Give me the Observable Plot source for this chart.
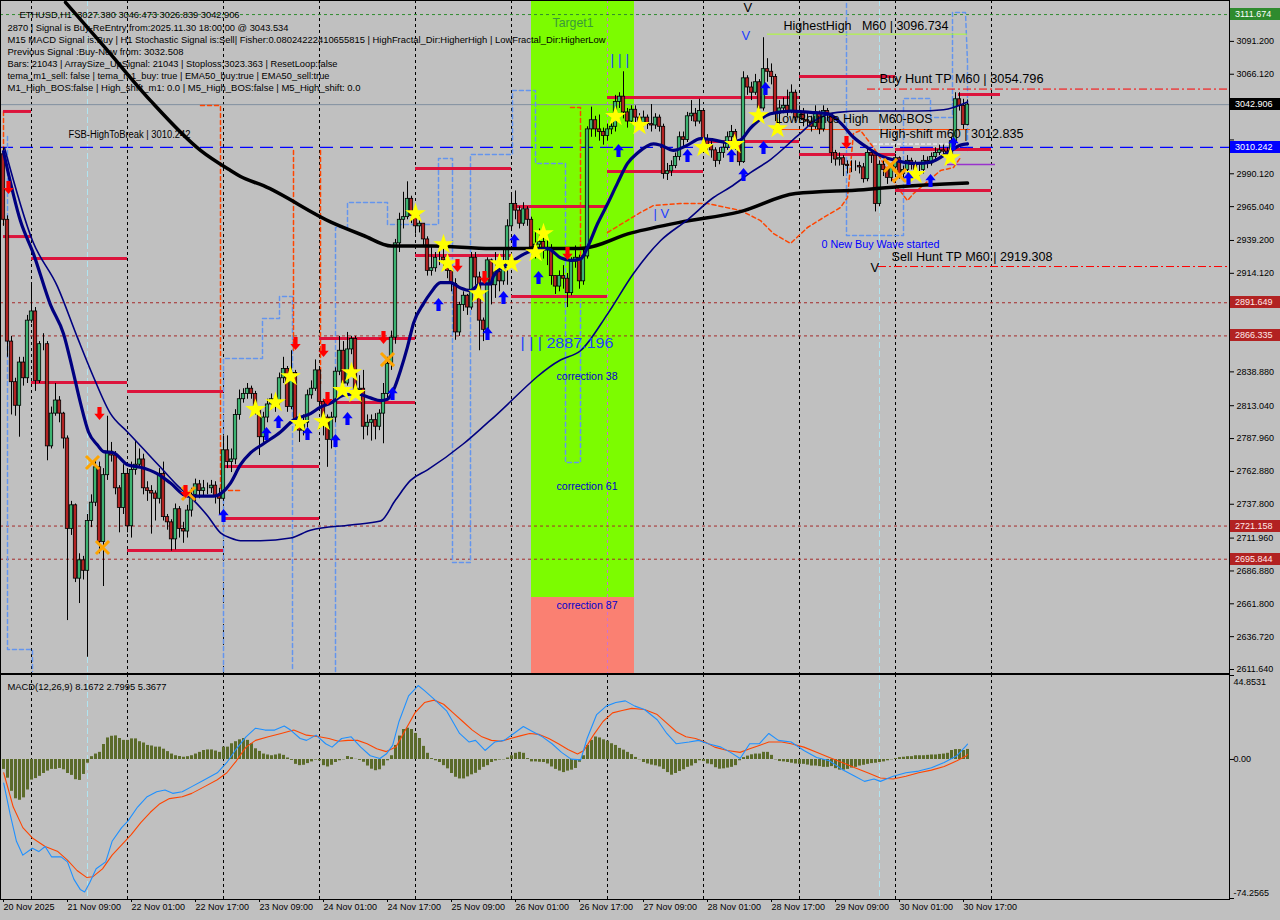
<!DOCTYPE html>
<html><head><meta charset="utf-8">
<script src="https://cdn.jsdelivr.net/npm/d3@7"></script>
<script src="https://cdn.jsdelivr.net/npm/@observablehq/plot@0.6"></script>
<style>
html,body{margin:0;padding:0;background:#c0c0c0;}
#wrap{position:relative;width:1280px;height:920px;background:#c0c0c0;overflow:hidden;font-family:"Liberation Sans",Arial,sans-serif;}
#wrap svg{position:absolute;left:0;display:block;}
#wrap text{white-space:pre;}
.box{position:absolute;left:1230px;width:50px;height:12px;font:9px "Liberation Sans",Arial,sans-serif;line-height:12px;padding-left:5px;box-sizing:border-box;}
</style></head><body><div id="wrap"></div>
<script>
// ---------------- DATA ----------------
const firstOpen = 3005;
const closes = [2955,2862,2831,2813,2846,2834,2878,2885,2832,2860,
2860,2782,2807,2817,2807,2788,2719,2737,2681,2695,
2687,2725,2739,2766,2709,2760,2778,2775,2750,2735,
2761,2721,2764,2768,2772,2750,2748,2746,2742,2761,
2728,2724,2711,2734,2719,2717,2733,2745,2753,2748,
2750,2750,2752,2744,2742,2779,2770,2772,2806,2818,
2822,2826,2822,2811,2789,2804,2814,2818,2815,2834,
2841,2812,2838,2802,2794,2800,2821,2826,2840,2816,
2804,2787,2804,2839,2855,2830,2856,2864,2825,2826,
2797,2800,2802,2797,2807,2822,2845,2865,2937,2955,
2957,2971,2958,2950,2952,2940,2916,2918,2926,2926,
2924,2916,2906,2869,2890,2897,2888,2926,2911,2878,
2871,2924,2905,2915,2908,2918,2950,2967,2962,2952,
2963,2955,2934,2936,2938,2932,2932,2912,2904,2912,
2910,2899,2923,2926,2908,2927,3024,3031,3024,3022,
3019,3024,3026,3045,3049,3037,3030,3039,3033,3029,
3033,3028,3027,3033,3026,2990,2992,2996,3003,3018,
3016,3034,3036,3030,3038,3016,3012,3008,3000,3006,
3010,3018,3022,3013,2999,3063,3056,3052,3060,3040,
3070,3068,3064,3036,3040,3042,3038,3052,3033,3037,
3031,3030,3026,3036,3024,3038,3036,3006,3001,3002,
2997,2996,2996,2996,2995,2986,3006,3004,2967,2997,
2993,2987,2995,3002,2990,2993,3000,2997,2993,2993,
3000,2998,3003,3006,3008,3007,3005,3015,3047,3042,
3027.38,3042.906];
const highs = [3010,2958,2866,2834,2850,2850,2882,2905,2888,2862,
2868,2862,2812,2830,2820,2808,2790,2740,2738,2700,
2698,2730,2745,2772,2770,2765,2805,2785,2778,2752,
2768,2765,2770,2786,2780,2776,2755,2752,2748,2765,
2770,2730,2726,2738,2736,2724,2737,2750,2757,2756,
2756,2754,2756,2755,2750,2790,2790,2780,2810,2825,
2826,2830,2828,2824,2812,2808,2818,2822,2822,2838,
2850,2843,2855,2840,2804,2806,2825,2832,2848,2842,
2818,2806,2808,2842,2866,2862,2869,2866,2866,2836,
2840,2806,2806,2807,2810,2830,2850,2870,2940,2960,
2976,2984,2973,2960,2958,2952,2942,2935,2930,2932,
2934,2926,2918,2910,2892,2900,2898,2930,2930,2915,
2880,2926,2925,2930,2918,2932,2955,2975,2977,2965,
2968,2965,2957,2945,2948,2945,2940,2936,2912,2916,
2920,2914,2926,2935,2928,2932,3026,3041,3034,3035,
3025,3028,3030,3050,3052,3068,3040,3042,3042,3036,
3038,3035,3043,3036,3035,3028,2998,3000,3006,3022,
3022,3037,3046,3040,3047,3039,3020,3016,3010,3010,
3014,3022,3027,3024,3015,3068,3065,3060,3066,3062,
3094,3078,3074,3066,3046,3048,3054,3058,3054,3042,
3040,3036,3034,3042,3038,3042,3040,3036,3008,3006,
3004,3000,3000,3000,2999,2998,3010,3008,3004,3000,
3000,2995,2998,3005,3003,2996,3004,3002,3000,2998,
3004,3003,3006,3010,3012,3012,3010,3018,3052,3052,
3047,3046.473];
const lows = [2950,2850,2806,2805,2789,2828,2830,2876,2824,2830,
2855,2771,2780,2805,2800,2780,2649,2714,2678,2662,
2680,2621,2720,2736,2700,2675,2756,2770,2745,2716,
2730,2716,2712,2760,2765,2745,2740,2715,2725,2738,
2725,2718,2702,2703,2712,2708,2712,2728,2740,2742,
2744,2745,2746,2738,2730,2740,2765,2762,2768,2802,
2815,2818,2818,2806,2775,2785,2800,2810,2808,2812,
2830,2808,2810,2795,2785,2790,2796,2818,2824,2810,
2790,2766,2780,2800,2836,2825,2828,2852,2820,2820,
2787,2790,2786,2787,2794,2784,2818,2840,2860,2930,
2948,2955,2952,2944,2945,2935,2912,2912,2915,2920,
2918,2910,2900,2863,2866,2885,2882,2886,2905,2855,
2862,2868,2890,2895,2900,2905,2905,2946,2955,2948,
2950,2950,2930,2925,2930,2925,2920,2905,2898,2900,
2902,2888,2897,2918,2902,2905,2925,3018,3018,3015,
3012,3015,3020,3022,3040,3032,3025,3028,3028,3024,
3026,3024,3022,3024,3022,2986,2985,2988,2994,3000,
3010,3014,3030,3026,3028,3012,3006,3002,2995,2997,
3002,3008,3010,3008,2996,2998,3050,3046,3050,3035,
3038,3060,3058,3030,3028,3036,3034,3036,3030,3030,
3026,3026,3022,3024,3020,3022,3030,2998,2996,2996,
2988,2990,2991,2992,2990,2983,2984,2998,2961,2965,
2988,2982,2984,2992,2986,2986,2990,2993,2990,2988,
2990,2994,2996,3000,3004,3003,3002,3004,3012,3038,
3024,3026.839];

// moving averages: [bar index, price]
const ma200Pts = [[15.5,3121],[25.5,3086],[36.75,3046],[49.25,3008],[56.75,2992.6],[59.25,2988],[65,2981],[82,2953],[90,2943],[97,2935],[107,2935],[122,2933],[144,2933],[157,2945],[169,2953],[184,2961],[198,2975],[215,2978],[223,2980],[241,2983]];
const emaFastPts = [[0,3007],[4.25,2954],[7.5,2929],[11.75,2890],[15,2868],[17.25,2841],[19.25,2815],[21.25,2793],[23.5,2783],[25,2778],[27.5,2777],[31,2768],[34.25,2766],[38.5,2761],[41.75,2754],[46,2744],[49.25,2744],[52.5,2744],[54.75,2747],[56.75,2754],[59.25,2768],[61.75,2777],[65,2784],[69.25,2793],[72.5,2802],[76.75,2807],[79.25,2812],[81.75,2815],[85,2821],[88.5,2822],[91.75,2819],[94.25,2817],[96,2818],[97.5,2825],[99.25,2840],[101,2858],[102.5,2876],[105,2891],[106.75,2899],[109.25,2907],[111.75,2907],[114.25,2903],[116.75,2901],[119.25,2906],[121.75,2906],[122.5,2912],[127.5,2924],[131.75,2931],[136,2933],[139.25,2926],[141.75,2924],[144.25,2925],[146,2934],[148.5,2952],[151,2967],[153.5,2983],[156,2998],[158.5,3006],[162.5,3013],[164.25,3012],[167.5,3008],[171,3012],[174.25,3017],[177.5,3016],[181,3014],[184.25,3016],[186.75,3025],[191.75,3036],[196.75,3038],[201.75,3037],[206,3036],[209.25,3029],[212.5,3018],[216,3010],[219.25,3004],[223.5,3000],[228.5,2998],[231.75,2999],[236,3006],[239.25,3012],[241,3013]];
const emaSlowPts = [[0.25,3010],[7.25,2939],[13.5,2904],[18.5,2865],[22.5,2835],[26.75,2807],[31,2793],[35,2780],[39.25,2766],[43.5,2752],[47.5,2741],[51,2729],[54.25,2716],[56.75,2712],[59.25,2710],[64.25,2710],[71.75,2712],[76.75,2718],[86.75,2722],[94.25,2725],[98,2741],[101.75,2756],[106,2764],[115,2784],[121.75,2802],[139.25,2848],[144.25,2855],[151,2883],[157.5,2914],[164.25,2939],[171,2955],[177.5,2972],[181.75,2980],[186.75,2991],[191.75,3001],[198.5,3019],[203.5,3032],[208.5,3037],[215,3038],[221.75,3038],[228.5,3038],[235,3039],[241,3045]];

// support / resistance segments: [start bar, end bar, price]
const levelSegs = [[0,7,3037.7],[0,7,2942.2],[7,31,2925.4],[7,31,2830.7],[31,55,2823.8],[31,55,2702.5],[55,79,2766.6],[55,79,2726.9],[79,103,2864.4],[79,103,2815.5],[103,127,2994.2],[103,127,2927.7],[127,151,2965.1],[127,151,2896.4],[151,175,3048.3],[151,175,2991.8],[175,199,3048.3],[175,199,3014.8],[199,223,3064.4],[199,223,3004.8],[223,247,3008.7],[223,247,2977.4],[238.75,249.25,3050.6]];

// channel paths: [segment, bar, price]
const blueChannel = [
[1,1,3018.6],[1,1,2626.9],[1,7.25,2626.9],[1,7.25,2610.1],
[2,55,2610.1],[2,55,2849.1],[2,64.75,2849.1],[2,64.75,2879.6],[2,69,2879.6],[2,69,2896.4],[2,72.25,2896.4],[2,72.25,2610.1],
[3,83,2610.1],[3,83,2949.1],[3,86,2949.1],[3,86,2968.2],[3,96,2968.2],[3,96,2951.4],[3,108.75,2951.4],[3,108.75,3001.8],[3,112.25,3001.8],[3,112.25,2693.3],[3,116.75,2693.3],[3,116.75,3004.8],[3,127.25,3004.8],[3,127.25,3053.7],[3,133,3053.7],[3,133,2998],[3,140.5,2998],[3,140.5,2769.7],[3,144.25,2769.7],[3,144.25,2893.4],
[4,210.75,3120.1],[4,210.75,2943],[4,225,2943],[4,225,3047.6],[4,231.75,3047.6],[4,231.75,3033.1],[4,237.25,3033.1],[4,237.25,3113.3],[4,240.5,3113.3],[4,241,3075.1],[4,241,3007.9]];
const orangeChannel = [
[0,0,3037.7],[0,0,2951.4],
[1,49.25,3042.2],[1,54.25,3042.2],[1,54.25,2748.3],[1,59.25,2748.3],
[2,72.5,3007.9],[2,72.5,2855.2],
[3,79.25,3007.9],[3,79.25,2830],
[4,141.75,3040.7],[4,144.25,3040.7],[4,144.25,2914],
[5,151,2945.3],[5,159.25,2960.6],[5,162.5,2965.9],[5,169.25,2967.4],[5,176,2967.4],[5,184.25,2962.1],[5,189.25,2954.4],[5,192.5,2944.5],[5,196.75,2936.9],[5,201,2949.1],[5,205,2956.7],[5,209.25,2964.4],[5,211,2972],[5,212.5,3020.9],[5,214.25,3023.2],[5,217.5,3010.2],[5,220,2998],[5,223.5,2979.6],[5,226,2969.7],[5,227.5,2975],[5,229.25,2979.6],[5,234.25,2992.6],[5,237.5,2994.9],[5,239.25,3002.5]];

// signal markers: [bar, price]
const stars = [[63,2810.2],[68,2815.5],[71.75,2835.3],[74,2799.5],[80,2801],[84.75,2824.7],[87,2838.4],[88,2822.4],[103,2959.8],[110,2936.1],[111,2921.6],[118.75,2898.7],[124,2921.6],[127,2921.6],[133,2930],[135,2944.5],[153,3033.9],[159,3027],[175,3010.2],[182.75,3012.5],[188.75,3034.6],[193.5,3024.7],[228,2989.6],[236.75,3002.5]];
const buyArrows = [[55,2729.2],[65.75,2791.8],[68.75,2801],[76,2791.8],[83,2786.5],[86,2803.3],[97.25,2822.4],[108.75,2890.3],[121,2868.2],[125,2895.7],[127.75,2939.2],[133.75,2910.9],[153.75,3007.9],[171,3004.1],[182,3004.1],[190.5,3055.2],[190,3010.2],[185,2989.6],[226.25,2986.5],[231.75,2985],[237.5,3013.2]];
const sellArrows = [[1.25,2979.6],[24,2807.1],[45.5,2747.5],[73,2860.5],[80,2855.2],[81,2818.5],[95,2865.1],[113.5,2920.1],[120.25,2910.9],[141,2929.3],[210.75,3014]];
const crosses = [[22.25,2769.7],[24.75,2704.8],[46.25,2746],[96,2848.3],[221.75,2996.5],[224,2988.8]];

// zone (Target1 box)
const zoneBars = [132, 157.75];
const zoneLevels = [3125, 2666.6, 2605];

// key price levels
const greenLevel = 3111.674, bidLevel = 3042.906, fsbLevel = 3010.242;
const brownLevels = [2891.649, 2866.335, 2721.158, 2695.844];
const buyHuntTP = 3054.796, sellHuntTP = 2919.308, highestHigh = 3096.734, highShift = 3012.835, bosLevel = 3023.9, purpleLevel = 2997.2;

const priceTicks = [3116.28,3091.2,3066.12,3041.04,3015.96,2990.12,2965.04,2939.2,2914.12,2889.04,2863.96,2838.88,2813.04,2787.96,2762.88,2737.8,2711.96,2686.88,2661.8,2636.72,2611.64];
const coveredTicks = [3116.28,3041.04,3015.96,2889.04,2863.96];
const dayGrid = [7,31,55,79,103,127,151,175,199,223,247];
const timeTickIdx = [0,16,32,48,64,80,96,112,128,144,160,176,192,208,224,240];
const timeLabels = ["20 Nov 2025","21 Nov 09:00","22 Nov 01:00","22 Nov 17:00","23 Nov 09:00","24 Nov 01:00","24 Nov 17:00","25 Nov 09:00","26 Nov 01:00","26 Nov 17:00","27 Nov 09:00","28 Nov 01:00","28 Nov 17:00","29 Nov 09:00","30 Nov 01:00","30 Nov 17:00"];

const infoLines = [
"ETHUSD,H1  3027.380 3046.473 3026.839 3042.906",
"2870 | Signal is Buy-ReEntry from:2025.11.30 18:00:00 @ 3043.534",
"M15 MACD Signal is:Buy | H1 Stochastic Signal is:Sell| Fisher:0.08024222410655815 | HighFractal_Dir:HigherHigh | LowFractal_Dir:HigherLow",
"Previous Signal :Buy-New from: 3032.508",
"Bars: 21043 | ArraySize_UpSignal: 21043 | Stoploss:3023.363 | ResetLoop:false",
"tema_m1_sell: false | tema_m1_buy: true | EMA50_buy:true | EMA50_sell:true",
"M1_High_BOS:false | High_shift_m1: 0.0 | M5_High_BOS:false | M5_High_shift: 0.0"];

// MACD(12,26,9)
const macdHist = [-5.3,-10,-17,-21,-21.8,-20.5,-16.3,-11,-10.2,-9,
-7.5,-6.2,-5.3,-5.3,-4.8,-5.5,-7.5,-8.5,-10.8,-11.2,
-8,-2,1.5,2.9,3.8,8,11.5,12.4,12.6,11.2,
10.2,10.2,11,11,9.5,8.8,7.5,7.2,6.6,6.6,
5.5,4.2,2.9,2,1.6,1.2,1.5,2,2.9,3.8,
4.8,5.1,5.1,4.5,3.8,6.6,6.6,8.4,9.5,10.5,
11.2,10.2,8.4,5.7,4.3,2.9,2.4,2,2.4,2.9,
2.2,0.8,-0.5,-2.6,-3.3,-3.1,-2.2,-1.3,-0.3,-0.7,
-3.3,-4,-3.1,-1.6,-0.7,-0.2,1.6,1,0.1,-0.5,
-1.5,-3.5,-5.2,-6,-5.5,-3.5,-0.7,2,7.5,12.5,
16,16.7,16,13.9,11.2,7,3.3,0.5,-0.7,-1.6,
-3.3,-5,-7.5,-9.5,-10.4,-10.4,-9.3,-8.2,-7.4,-5.8,
-4.2,-3.3,-1.6,-0.8,-0.3,-0.2,0.8,2,3.3,3.8,
3.3,0.5,-1.3,-1.3,-1.5,-1.6,-2.4,-4,-5.3,-6.2,
-7,-6.2,-5.7,-4.8,-1.5,2,7.5,10.2,12,11.5,
10.5,9.8,8.4,7.5,5.9,5,3.8,2.6,1.1,-0.2,
-1.6,-2.4,-3,-3.4,-4,-5.3,-7,-8.4,-7.5,-6.4,
-5.5,-4.2,-3.5,-2.2,-0.7,-1.1,-2.4,-2.8,-4.4,-5.2,
-5,-4.6,-4.2,-3.3,-0.7,1,1.8,2.5,2.9,2.9,
3.8,3.8,2.2,-0.2,-1.1,-1.3,-1.6,-2,-2.4,-2.6,
-2.6,-3,-3.5,-3.5,-3.8,-4.2,-4.2,-3.8,-4.9,-5.7,
-5.7,-5.3,-4.6,-4.2,-3.5,-3.1,-2.6,-2.2,-2,-1.6,
-1.3,-0.7,-0.2,0.5,1,1.2,1.5,1.5,2,2,
2,2.2,2.4,2.4,2.7,2.9,3.3,4.8,5.3,5.3,
4.8,5.3677];
const macdMainPts = [[0.05,-12.6],[1.64,-29.1],[3.24,-43.7],[4.83,-51.1],[7.22,-47.4],[8.81,-49.2],[10.41,-46.5],[12,-52],[14.4,-52],[15.99,-54.7],[17.58,-63.9],[19.18,-69.4],[20.29,-70.8],[21.57,-65.7],[23.16,-58.4],[25.55,-54.7],[27.15,-43.7],[29.54,-36.4],[31.13,-32.8],[33.52,-25.4],[35.91,-19.9],[38.3,-17.2],[40.38,-16.3],[42.29,-18.1],[44.68,-17.2],[47.07,-14.5],[50.26,-10.8],[53.45,-7.1],[55.84,-1.6],[58.23,5.7],[60.62,12.1],[63.01,16.7],[65.4,15.7],[67.79,15.7],[70.18,17.9],[71.78,15.7],[74.17,11.2],[75.76,10.2],[78.15,13],[80.54,8.4],[82.14,6.6],[84.53,11.2],[86.92,12.1],[89.31,6.6],[91.7,2],[94.09,0.5],[95.69,2.9],[97.28,7.5],[98.88,20.3],[101.27,34],[103.66,39.5],[105.25,36.8],[107.64,32.2],[110.83,25.8],[114.02,13.9],[116.41,9.3],[118,10.2],[120.39,4.8],[122.79,9.3],[125.18,10.2],[127.57,13.9],[129.96,17.6],[132.35,14.8],[134.74,12.1],[137.13,8.4],[139.52,3.8],[141.91,0.2],[144.3,-0.2],[145.9,11.2],[148.29,24],[150.68,28.5],[153.07,30.4],[155.46,31.3],[157.85,28.5],[160.24,26.7],[163.43,21.2],[165.82,13.9],[168.21,8.4],[171.4,9.3],[173.79,10.2],[176.18,8.4],[179.37,6.6],[181.76,3.8],[184.15,0.5],[186.55,8.4],[188.94,8.4],[191.33,13.9],[193.72,10.2],[196.91,9.3],[200.1,4.8],[203.28,1.1],[206.47,-0.7],[209.66,-5.3],[212.85,-9],[215.24,-11.7],[217.63,-10.4],[219.22,-11.7],[222.41,-9],[225.6,-7.1],[228.79,-6.2],[231.98,-4.4],[235.17,-1.6],[238.36,2],[240.75,7.5],[241,8.1672]];
const macdSignalPts = [[0.05,-7.1],[2.44,-25.4],[4.83,-36.4],[7.22,-41.9],[10.41,-46.5],[13.6,-49.2],[15.99,-53.8],[18.38,-59.3],[20.77,-63],[22.36,-62.6],[24.75,-58.4],[27.15,-51.1],[29.54,-45.6],[31.93,-40.1],[34.32,-33.7],[36.71,-28.2],[39.1,-23.6],[41.49,-20.9],[44.68,-19.9],[47.07,-18.1],[50.26,-14.5],[53.45,-10.8],[55.84,-7.1],[58.23,-0.7],[60.62,6.6],[63.01,10.2],[66.2,12.1],[69.39,13.9],[72.57,15.7],[75.76,13],[78.95,12.1],[81.34,11.2],[83.73,9.7],[86.12,10.2],[88.51,10.2],[90.9,8.4],[93.3,5.7],[95.69,4.2],[98.08,6.6],[100.47,15.7],[102.86,24.9],[105.25,30.4],[107.64,31.7],[110.03,29.5],[112.42,24.9],[114.82,20.3],[117.21,15.7],[119.6,12.1],[121.99,10.2],[124.38,9.7],[126.77,11.2],[129.16,12.6],[131.55,13.9],[133.94,13.4],[136.33,11.2],[138.73,8.4],[141.12,5.3],[143.51,2.9],[145.1,4.8],[147.49,13],[149.88,20.3],[152.27,24.9],[154.67,26.2],[157.06,27.3],[160.24,26.7],[163.43,24],[165.82,19.4],[168.21,14.8],[170.61,12.1],[173,11.2],[175.39,9.3],[177.78,6.6],[180.97,4.8],[184.15,3.8],[186.55,5.7],[188.94,7.5],[191.33,9.3],[194.52,9.3],[196.91,8.4],[200.1,6.6],[203.28,3.8],[206.47,1.1],[209.66,-1.6],[212.85,-4.4],[216.04,-7.1],[219.22,-9.9],[222.41,-10.4],[225.6,-9],[228.79,-7.1],[231.98,-5.7],[235.17,-3.8],[238.36,-0.7],[240.75,2],[241,2.7995]];
const macdTicks = [44.8531, 0, -74.2565];

// ---------------- CHART ----------------
const FONT = "Liberation Sans, Arial, sans-serif";
const bars = closes.map((c, i) => ({i, open: i === 0 ? firstOpen : closes[i - 1], high: highs[i], low: lows[i], close: c}));
const xOpt = {type: "linear", domain: [-0.75, 306.5]};
const P = d => ({x: d[0], y: d[1]});
const seg = rows => rows.map(r => ({s: r[0], x: r[1], y: r[2]}));
const fmt3 = d3.format(".3f");

const arrowUp = {draw(ctx, size) { const r = Math.sqrt(size / Math.PI);
  ctx.moveTo(0, -r); ctx.lineTo(r * 0.8, -r * 0.05); ctx.lineTo(r * 0.32, -r * 0.05); ctx.lineTo(r * 0.32, r);
  ctx.lineTo(-r * 0.32, r); ctx.lineTo(-r * 0.32, -r * 0.05); ctx.lineTo(-r * 0.8, -r * 0.05); ctx.closePath(); }};
const arrowDown = {draw(ctx, size) { const r = Math.sqrt(size / Math.PI);
  ctx.moveTo(0, r); ctx.lineTo(r * 0.8, r * 0.05); ctx.lineTo(r * 0.32, r * 0.05); ctx.lineTo(r * 0.32, -r);
  ctx.lineTo(-r * 0.32, -r); ctx.lineTo(-r * 0.32, r * 0.05); ctx.lineTo(-r * 0.8, r * 0.05); ctx.closePath(); }};

const ann = (t, i, p, o = {}) => Plot.text([t], {x: () => i, y: () => p, text: d => d, textAnchor: "start", fontSize: 12, fill: "#000", clip: false, ...o});

const pricePlot = Plot.plot({
  width: 1280, height: 673, marginLeft: 0, marginRight: 51, marginTop: 0, marginBottom: 0,
  x: {...xOpt, axis: null},
  y: {domain: [2608.59, 3122.42]},
  style: {background: "transparent", fontFamily: FONT, fontSize: "9px", overflow: "visible"},
  marks: [
    Plot.rect([0], {x1: () => zoneBars[0], x2: () => zoneBars[1], y1: () => zoneLevels[0], y2: () => zoneLevels[1], fill: "#7cfc00", clip: true}),
    Plot.rect([0], {x1: () => zoneBars[0], x2: () => zoneBars[1], y1: () => zoneLevels[1], y2: () => zoneLevels[2], fill: "#fa8072", clip: true}),
    Plot.ruleX(dayGrid, {stroke: "#000", strokeDasharray: "3,3", strokeWidth: 1}),
    Plot.ruleX([151], {stroke: "#d070d0", strokeDasharray: "3,3"}),
    Plot.ruleX([21, 219], {stroke: "#b0e4f0", strokeDasharray: "6,3"}),
    Plot.ruleY([greenLevel], {stroke: "#2e8b2e", strokeDasharray: "3,3"}),
    Plot.ruleY(brownLevels, {stroke: "#a52a2a", strokeDasharray: "3,3"}),
    Plot.ruleY([bidLevel], {stroke: "#8090a0"}),
    Plot.ruleY([fsbLevel], {stroke: "#0000ff", strokeDasharray: "13,7", strokeWidth: 1.2}),
    Plot.line(seg(blueChannel), {x: "x", y: "y", z: "s", stroke: "#6495ed", strokeDasharray: "4,3", clip: true}),
    Plot.line(seg(orangeChannel), {x: "x", y: "y", z: "s", stroke: "#ff4500", strokeDasharray: "4,3", clip: true}),
    Plot.ruleY([buyHuntTP], {x1: 216, x2: 306.5, stroke: "#ff0000", strokeDasharray: "8,3,2,3"}),
    Plot.ruleY([sellHuntTP], {x1: 218.75, x2: 306.5, stroke: "#ff0000", strokeDasharray: "8,3,2,3"}),
    Plot.ruleY([highestHigh], {x1: 191, x2: 241, stroke: "#adff2f"}),
    Plot.ruleY([bosLevel], {x1: 192.5, x2: 241.75, stroke: "#ff4500"}),
    Plot.ruleY([highShift], {x1: 217.5, x2: 237.5, stroke: "#ffffff", strokeDasharray: "4,2"}),
    Plot.ruleY([purpleLevel], {x1: 236, x2: 248, stroke: "#9932cc", strokeWidth: 1.5}),
    Plot.ruleY(levelSegs, {y: d => d[2], x1: d => d[0], x2: d => d[1], stroke: "#dc143c", strokeWidth: 3}),
    Plot.ruleX(bars, {x: "i", y1: "low", y2: "high", stroke: "#000", strokeWidth: 1}),
    Plot.rect(bars, {x1: d => d.i - 0.42, x2: d => d.i + 0.42, y1: "open", y2: "close",
      fill: d => d.close >= d.open ? "#3cb371" : "#b22222", stroke: "#000", strokeWidth: 0.8}),
    Plot.line(ma200Pts.map(P), {x: "x", y: "y", stroke: "#000", strokeWidth: 3.5, curve: "monotone-x", clip: true}),
    Plot.line(emaSlowPts.map(P), {x: "x", y: "y", stroke: "#000080", strokeWidth: 1.6, curve: "monotone-x", clip: true}),
    Plot.line(emaFastPts.map(P), {x: "x", y: "y", stroke: "#000080", strokeWidth: 3.2, curve: "monotone-x", clip: true}),
    Plot.dot(crosses.map(P), {x: "x", y: "y", symbol: "times", r: 6, stroke: "#ffa500", strokeWidth: 3}),
    Plot.dot(stars.map(P), {x: "x", y: "y", symbol: "star", r: 6.5, fill: "#ffff00", stroke: "none"}),
    Plot.dot(buyArrows.map(P), {x: "x", y: "y", symbol: arrowUp, r: 6.5, fill: "#0000ff", stroke: "none"}),
    Plot.dot(sellArrows.map(P), {x: "x", y: "y", symbol: arrowDown, r: 6.5, fill: "#ff0000", stroke: "none"}),
    // annotations
    ann("HighestHigh   M60 | 3096.734", 195, 3102.6),
    ann("Buy Hunt TP M60 | 3054.796", 219, 3062.1),
    ann("LowBounce High   M60-BOS", 193, 3031.6),
    ann("High-shift m60 | 3012.835", 219, 3020.1),
    ann("0 New Buy Wave started", 204.5, 2936.1, {fill: "#0000ff", fontSize: 11}),
    ann("Sell Hunt TP M60 | 2919.308", 222, 2926.2),
    ann("FSB-HighToBreak | 3010.242", 16.25, 3019.7, {fontSize: 10}),
    ann("Target1", 137.25, 3105.6, {fill: "#3a9a3a", fontSize: 13}),
    ann("correction 38", 138.25, 2835.3, {fill: "#0000cd", fontSize: 10.5}),
    ann("correction 61", 138.25, 2751.4, {fill: "#0000cd", fontSize: 10.5}),
    ann("correction 87", 138.25, 2660.5, {fill: "#0000cd", fontSize: 10.5}),
    ann("| | | 2887.196", 129.25, 2860.6, {fill: "#2040ff", fontSize: 15}),
    ann("| | |", 151.75, 3076.6, {fill: "#2040ff", fontSize: 14}),
    ann("| V", 162.5, 2959.8, {fill: "#2040ff", fontSize: 13}),
    ann("V", 185, 3117, {fontSize: 13}),
    ann("V", 184.5, 3095.7, {fill: "#2040ff", fontSize: 13}),
    ann("V", 216.75, 2918.6, {fontSize: 13}),
    ...infoLines.map((t, k) => Plot.text([t], {text: d => d, frameAnchor: "top-left", dx: k === 0 ? 19 : 7, dy: [11, 24, 36, 48, 60, 72, 84][k], textAnchor: "start", fontSize: 9.5, fill: "#000"})),
    Plot.frame({stroke: "#000"}),
    Plot.axisY(priceTicks, {anchor: "right", tickSize: 4, tickPadding: 3, tickFormat: d => coveredTicks.includes(d) ? "" : fmt3(d), fontSize: 9})
  ]
});

const macdPlot = Plot.plot({
  width: 1280, height: 247, marginLeft: 0, marginRight: 51, marginTop: 1, marginBottom: 21,
  x: xOpt,
  y: {domain: [-74.79, 45.39]},
  style: {background: "transparent", fontFamily: FONT, fontSize: "9px", overflow: "visible"},
  marks: [
    Plot.ruleX(dayGrid, {stroke: "#000", strokeDasharray: "3,3", strokeWidth: 1}),
    Plot.ruleX([21, 219], {stroke: "#b0e4f0", strokeDasharray: "6,3"}),
    Plot.ruleX(macdHist.map((v, i) => ({i, v})), {x: "i", y1: 0, y2: "v", stroke: "#5b6b2a", strokeWidth: 3}),
    Plot.line(macdSignalPts.map(P), {x: "x", y: "y", stroke: "#ff4500", strokeWidth: 1.1}),
    Plot.line(macdMainPts.map(P), {x: "x", y: "y", stroke: "#1e90ff", strokeWidth: 1.1}),
    Plot.text(["MACD(12,26,9) 8.1672 2.7995 5.3677"], {text: d => d, frameAnchor: "top-left", dx: 7, dy: 9, textAnchor: "start", fontSize: 9.5}),
    Plot.frame({stroke: "#000"}),
    Plot.axisY(macdTicks, {anchor: "right", tickSize: 4, tickFormat: () => ""}),
    Plot.text([macdTicks[0]], {y: d => d, text: () => "44.8531", frameAnchor: "right", dx: 4, dy: 7, textAnchor: "start", fontSize: 9}),
    Plot.text([macdTicks[1]], {y: d => d, text: () => "0.00", frameAnchor: "right", dx: 4, textAnchor: "start", fontSize: 9}),
    Plot.text([macdTicks[2]], {y: d => d, text: () => "-74.2565", frameAnchor: "right", dx: 4, dy: -5, textAnchor: "start", fontSize: 9}),
    Plot.axisX(timeTickIdx, {anchor: "bottom", tickSize: 3, tickFormat: () => ""}),
    Plot.text(timeTickIdx, {x: d => d, text: (d, k) => timeLabels[k], frameAnchor: "bottom", dy: 10, textAnchor: "start", fontSize: 9})
  ]
});

const wrap = document.getElementById("wrap");
pricePlot.style.top = "0px";
macdPlot.style.top = "673px";
wrap.appendChild(pricePlot);
wrap.appendChild(macdPlot);

// text widths measured on the reference
const widths = new Map([
  [infoLines[0], 220], [infoLines[1], 281], [infoLines[2], 598], [infoLines[3], 176],
  [infoLines[4], 330], [infoLines[5], 322], [infoLines[6], 353],
  ["HighestHigh   M60 | 3096.734", 165], ["Buy Hunt TP M60 | 3054.796", 164], ["LowBounce High   M60-BOS", 157],
  ["High-shift m60 | 3012.835", 144], ["Sell Hunt TP M60 | 2919.308", 161], ["0 New Buy Wave started", 118],
  ["FSB-HighToBreak | 3010.242", 122], ["Target1", 41], ["correction 38", 61], ["correction 61", 61], ["correction 87", 61],
  ["| | | 2887.196", 93], ["MACD(12,26,9) 8.1672 2.7995 5.3677", 159]
]);
for (const svg of [pricePlot, macdPlot]) {
  for (const t of svg.querySelectorAll("text")) {
    const w = widths.get(t.textContent);
    if (w) { t.setAttribute("textLength", w); t.setAttribute("lengthAdjust", "spacingAndGlyphs"); }
  }
}

// highlighted price boxes on the right scale
const ys = pricePlot.scale("y");
const axisBoxes = [
  {v: greenLevel, bg: "#2e8b2e", fg: "#ffffff"},
  {v: bidLevel, bg: "#000000", fg: "#ffffff"},
  {v: fsbLevel, bg: "#0000ff", fg: "#ffffff"},
  ...brownLevels.map(v => ({v, bg: "#b22222", fg: "#ffe8e8"}))
];
for (const b of axisBoxes) {
  const d = document.createElement("div");
  d.className = "box";
  d.style.top = (ys.apply(b.v) - 6) + "px";
  d.style.background = b.bg; d.style.color = b.fg;
  d.textContent = b.v.toFixed(3);
  wrap.appendChild(d);
}
</script></body></html>
